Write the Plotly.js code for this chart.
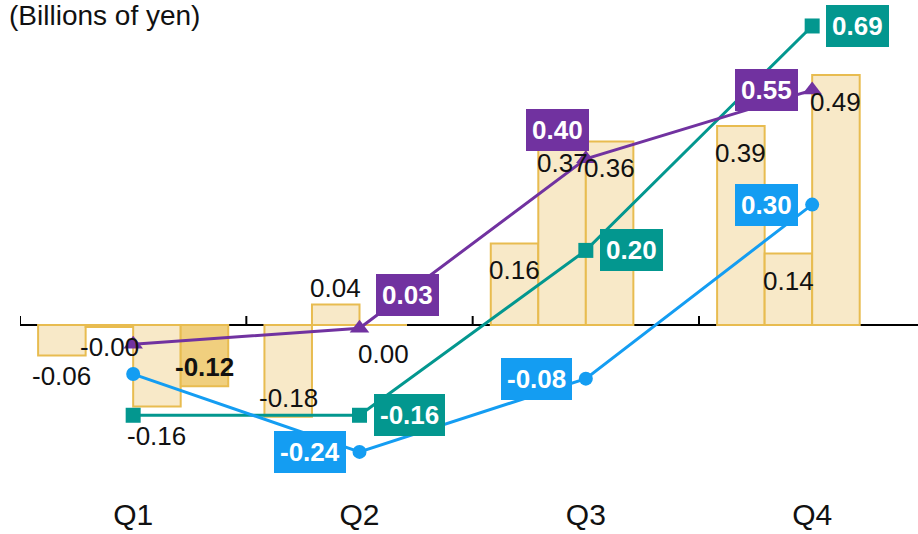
<!DOCTYPE html>
<html>
<head>
<meta charset="utf-8">
<script src="https://cdn.plot.ly/plotly-3.0.1.min.js"></script>
<style>
  html, body { margin: 0; padding: 0; background: #ffffff; overflow: hidden; }
  #chart { width: 918px; height: 534px; }
</style>
</head>
<body>
<div id="chart"></div>
<script>
// ---- data ----
const categories = ['Q1', 'Q2', 'Q3', 'Q4'];
const barA = [-0.06, -0.18, 0.16, 0.39];
const barB = [-0.004, 0.04, 0.37, 0.14];
const barC = [-0.16, 0.00, 0.36, 0.49];
const barD = [-0.12, null, null, null];
const lineTeal = [-0.16, -0.16, 0.20, 0.69];
const lineBlue = [-0.07, -0.24, -0.08, 0.30];
const linePurple = [-0.005, 0.03, 0.40, 0.55];
const axisNote = '(Billions of yen)';

// ---- label placement (style) ----
const barLabelPlace = {
  A: ['out', 'in', 'in', 'in'],
  B: ['out', 'out', 'in', 'in'],
  C: ['far', 'far', 'in', 'in'],
  D: ['in', null, null, null]
};
const lineLabelPlace = {
  teal: [null, 'right', 'right', 'right'],
  blue: [null, 'left', 'left', 'left'],
  purple: [null, 'upright', 'upleft', 'left']
};

const FONT = '"Liberation Sans", Arial, Helvetica, sans-serif';
const barFill = '#F8E9C8';
const barFillDark = '#F0CF7E';
const barEdge = '#E8BC50';
const teal = '#03978F';
const blue = '#149DF2';
const purple = '#7132A0';
const BARGAP = 0.16;

function barTrace(vals, fill) {
  return {
    type: 'bar', x: categories, y: vals, yaxis: 'y',
    marker: { color: fill, line: { color: barEdge, width: 2 } },
    hoverinfo: 'skip'
  };
}
function lineTrace(vals, color, symbol, size) {
  return {
    type: 'scatter', mode: 'lines+markers', x: categories, y: vals, yaxis: 'y2',
    line: { color: color, width: 3 },
    marker: { color: color, symbol: symbol, size: size },
    hoverinfo: 'skip', cliponaxis: false
  };
}

const traces = [
  barTrace(barA, barFill),
  barTrace(barB, barFill),
  barTrace(barC, barFill),
  barTrace(barD, barFillDark),
  lineTrace(lineTeal, teal, 'square', 15),
  lineTrace(lineBlue, blue, 'circle', 14),
  lineTrace(linePurple, purple, 'triangle-up', 17)
];

const annotations = [];
// bar value labels
const barSeries = [['A', barA], ['B', barB], ['C', barC], ['D', barD]];
const slotW = (1 - BARGAP) / barSeries.length;
barSeries.forEach(([key, vals], k) => {
  vals.forEach((v, i) => {
    const place = barLabelPlace[key][i];
    if (v === null || !place) return;
    const up = v > 0;
    let shift;
    if (place === 'in') shift = up ? -27 : 19;
    else if (place === 'out') shift = up ? 17 : -20;
    else shift = up ? 28 : -29;
    annotations.push({
      xref: 'x', yref: 'y', x: i + (k - (barSeries.length - 1) / 2) * slotW, y: v,
      text: key === 'D' ? '<b>' + v.toFixed(2) + '</b>' : v.toFixed(2),
      showarrow: false, xanchor: 'center', yanchor: 'middle', yshift: shift,
      font: { family: FONT, size: 26, color: '#111111' }
    });
  });
});
// line value labels
const lineSeries = [['teal', lineTeal, teal], ['blue', lineBlue, blue], ['purple', linePurple, purple]];
lineSeries.forEach(([key, vals, color]) => {
  vals.forEach((v, i) => {
    const place = lineLabelPlace[key][i];
    if (!place) return;
    let xanchor = 'left', xshift = 14, yshift = 0;
    if (place === 'left') { xanchor = 'right'; xshift = -14; }
    if (place === 'upright') { xanchor = 'left'; xshift = 16; yshift = 33; }
    if (place === 'upleft') { xanchor = 'right'; xshift = 3; yshift = 29; }
    annotations.push({
      xref: 'x', yref: 'y2', x: categories[i], y: v,
      text: '<b>' + v.toFixed(2) + '</b>',
      showarrow: false, xanchor: xanchor, yanchor: 'middle', xshift: xshift, yshift: yshift,
      bgcolor: color, borderpad: 6, borderwidth: 0,
      font: { family: FONT, size: 26, color: '#ffffff' }
    });
  });
});
// unit note
annotations.push({
  xref: 'paper', yref: 'paper', x: 0, y: 1, xanchor: 'left', yanchor: 'middle',
  xshift: -13, yshift: -5, showarrow: false, text: axisNote,
  font: { family: FONT, size: 28, color: '#111111' }
});

// category boundary ticks on the zero axis
const shapes = categories.map((c, i) => ({
  type: 'line', xref: 'x', yref: 'y', x0: i - 0.5, x1: i - 0.5,
  ysizemode: 'pixel', yanchor: 0, y0: 0, y1: 9,
  line: { color: '#000000', width: 2 }
}));

const layout = {
  width: 918, height: 534,
  margin: { l: 20, r: 0, t: 10, b: 40, pad: 0 },
  paper_bgcolor: '#ffffff', plot_bgcolor: '#ffffff',
  showlegend: false, hovermode: false,
  barmode: 'group', bargap: BARGAP, bargroupgap: 0,
  font: { family: FONT, color: '#111111' },
  xaxis: {
    type: 'category', range: [-0.5, 3.4676],
    showgrid: false, zeroline: false, showline: false, ticks: '',
    tickfont: { family: FONT, size: 30, color: '#111111' }
  },
  yaxis: {
    range: [-0.3314, 0.6176], showgrid: false, showticklabels: false, ticks: '',
    showline: false, zeroline: true, zerolinecolor: '#000000', zerolinewidth: 2.5
  },
  yaxis2: {
    overlaying: 'y', side: 'right', range: [-0.3319, 0.7249], visible: false
  },
  annotations: annotations,
  shapes: shapes
};

Plotly.newPlot('chart', traces, layout, { staticPlot: true, displayModeBar: false });
</script>
</body>
</html>
